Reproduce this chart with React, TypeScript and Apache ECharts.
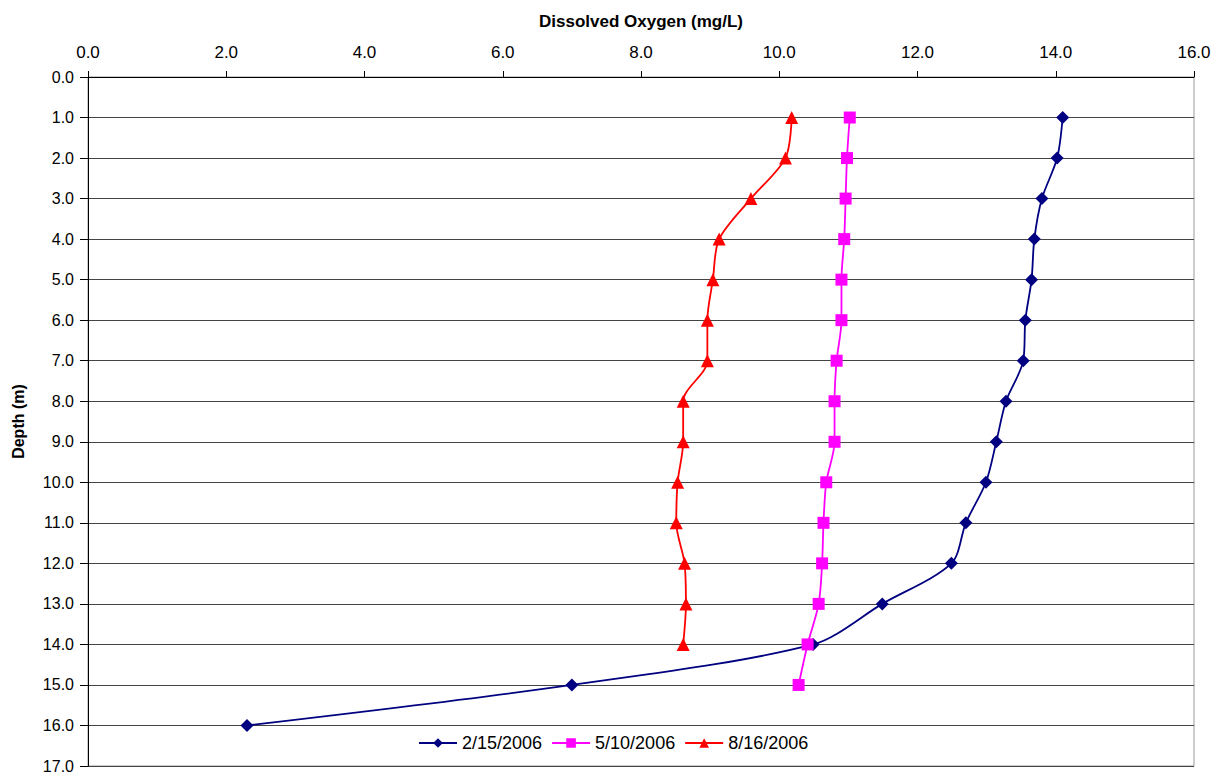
import React, { useEffect, useRef } from "react";
import * as echarts from "echarts";

const depths = [1, 2, 3, 4, 5, 6, 7, 8, 9, 10, 11, 12, 13, 14, 15, 16];
const seriesNames = ["2/15/2006", "5/10/2006", "8/16/2006"];
const doFeb = [14.1, 14.02, 13.8, 13.69, 13.65, 13.56, 13.53, 13.28, 13.14, 12.99, 12.7, 12.49, 11.49, 10.49, 7.0, 2.3];
const doMay = [11.02, 10.98, 10.96, 10.94, 10.9, 10.9, 10.83, 10.8, 10.8, 10.68, 10.64, 10.62, 10.57, 10.41, 10.28];
const doAug = [10.18, 10.09, 9.59, 9.13, 9.04, 8.96, 8.96, 8.61, 8.61, 8.53, 8.51, 8.63, 8.65, 8.61];

const FONT = "'Liberation Sans', Arial, sans-serif";

export default function App() {
  const ref = useRef<HTMLDivElement>(null);
  useEffect(() => {
    if (!ref.current) return;
    const chart = echarts.init(ref.current, undefined, { renderer: "svg" });
    const pairs = (vals: number[]) => vals.map((v, i) => [v, depths[i]]);
    chart.setOption({
      animation: false,
      textStyle: { fontFamily: FONT },
      grid: {
        left: 88,
        right: 31,
        top: 77,
        bottom: 12,
        outerBoundsMode: "none",
        containLabel: false,
        show: true,
        borderColor: "#999",
        borderWidth: 1,
      },
      legend: {
        left: 413,
        top: 729,
        itemWidth: 38,
        itemHeight: 12,
        itemGap: 9,
        textStyle: { fontSize: 18, color: "#000", fontFamily: FONT },
        data: seriesNames,
      },
      xAxis: {
        type: "value",
        position: "top",
        min: 0,
        max: 16,
        interval: 2,
        name: "Dissolved Oxygen (mg/L)",
        nameLocation: "middle",
        nameGap: 47,
        nameTextStyle: { fontSize: 17, fontWeight: "bold", color: "#000", fontFamily: FONT },
        axisLine: { show: true, lineStyle: { color: "#000", width: 1 } },
        axisTick: { show: true, inside: false, length: 6, lineStyle: { color: "#000" } },
        axisLabel: {
          fontSize: 17,
          color: "#000",
          margin: 16,
          fontFamily: FONT,
          formatter: (v: number) => v.toFixed(1),
        },
        splitLine: { show: false },
      },
      yAxis: {
        type: "value",
        inverse: true,
        min: 0,
        max: 17,
        interval: 1,
        name: "Depth (m)",
        nameLocation: "middle",
        nameGap: 62,
        nameTextStyle: { fontSize: 16, fontWeight: "bold", color: "#000", fontFamily: FONT },
        axisLine: { show: true, lineStyle: { color: "#000", width: 1 } },
        axisTick: { show: true, inside: false, length: 8, lineStyle: { color: "#000" } },
        axisLabel: {
          fontSize: 16,
          color: "#000",
          margin: 14,
          fontFamily: FONT,
          formatter: (v: number) => v.toFixed(1),
        },
        splitLine: { show: true, lineStyle: { color: "#444", width: 1.2 } },
      },
      series: [
        {
          name: seriesNames[0],
          type: "line",
          data: pairs(doFeb),
          smooth: 0.3,
          symbol: "diamond",
          symbolSize: 13,
          itemStyle: { color: "#000080" },
          lineStyle: { color: "#000080", width: 1.8 },
        },
        {
          name: seriesNames[1],
          type: "line",
          data: pairs(doMay),
          smooth: 0.3,
          symbol: "rect",
          symbolSize: 12,
          itemStyle: { color: "#FF00FF" },
          lineStyle: { color: "#FF00FF", width: 1.8 },
        },
        {
          name: seriesNames[2],
          type: "line",
          data: pairs(doAug),
          smooth: 0.3,
          symbol: "triangle",
          symbolSize: 13,
          itemStyle: { color: "#FF0000" },
          lineStyle: { color: "#FF0000", width: 1.8 },
        },
      ],
    });
    return () => chart.dispose();
  }, []);
  return <div ref={ref} style={{ width: 1225, height: 778, position: "absolute", left: 0, top: 0 }} />;
}
